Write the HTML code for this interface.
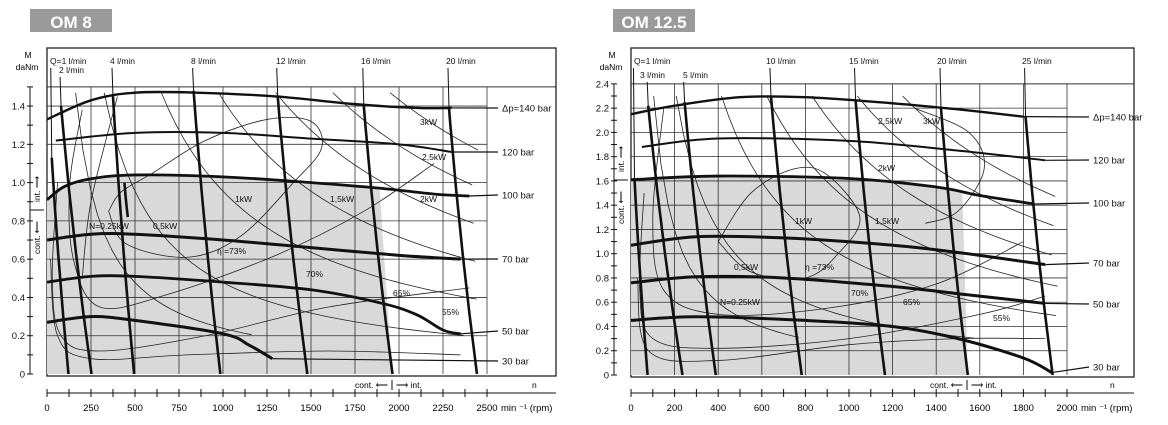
<!DOCTYPE html>
<html><head><meta charset="utf-8"><style>
body{margin:0;background:#fff;}
svg{display:block;font-family:"Liberation Sans",sans-serif;}
</style></head><body>
<svg id="s" width="1168" height="425" viewBox="0 0 1168 425" xmlns="http://www.w3.org/2000/svg">
<rect width="1168" height="425" fill="#fff"/>
<rect x="30" y="9" width="82" height="23" fill="#9a9a9a"/>
<text x="71" y="28" font-size="17" font-weight="bold" fill="#fff" text-anchor="middle">OM 8</text>
<rect x="613" y="9" width="82" height="23" fill="#9a9a9a"/>
<text x="654" y="28" font-size="17" font-weight="bold" fill="#fff" text-anchor="middle">OM 12.5</text>
<g id="g"></g>
</svg>
<script>
const NS="http://www.w3.org/2000/svg",G=document.getElementById('g');
function el(t,a,txt){const e=document.createElementNS(NS,t);for(const k in a)e.setAttribute(k,a[k]);if(txt!==undefined)e.textContent=txt;G.appendChild(e);return e;}
function cr(p){if(p.length<3)return 'M'+p.map(q=>q.join(',')).join('L');let d='M'+p[0][0]+','+p[0][1];
for(let i=0;i<p.length-1;i++){const p0=p[i-1]||p[i],p1=p[i],p2=p[i+1],p3=p[i+2]||p2;
d+='C'+(p1[0]+(p2[0]-p0[0])/6)+','+(p1[1]+(p2[1]-p0[1])/6)+' '+(p2[0]-(p3[0]-p1[0])/6)+','+(p2[1]-(p3[1]-p1[1])/6)+' '+p2[0]+','+p2[1];}return d;}
function chart(c){
 const X=r=>c.x0+r*c.sx, Y=m=>c.y0-m*c.sy;
 const P=a=>a.map(q=>[X(q[0]),Y(q[1])]);
 el('rect',{x:c.fl,y:48,width:c.fr-c.fl,height:c.y0-48+2,fill:'none',stroke:'#222','stroke-width':1.3});
 // shaded: straight corners, curved top
 const top=P(c.shade), br=[X(c.shB),c.y0];
 el('path',{d:'M'+X(0)+','+c.y0+'L'+top[0]+cr(top).replace(/^M[^C]*/,'')+'L'+br+'Z',fill:'#d9d9d9',stroke:'none'});
 for(let r=c.gx;r<=c.rmax+1e-6;r+=c.gx)el('line',{x1:X(r),y1:Y(c.mmax),x2:X(r),y2:c.y0,stroke:'#333','stroke-width':0.8});
 for(let m=0.2;m<=c.mmax-0.05;m+=0.2)el('line',{x1:c.fl,y1:Y(m),x2:X(c.rmax),y2:Y(m),stroke:'#333','stroke-width':0.8});
 el('line',{x1:c.fl,y1:Y(c.mmax),x2:c.fr,y2:Y(c.mmax),stroke:'#333','stroke-width':1});
 c.pw.forEach(p=>{const k=p[0]*c.pk;let pts=[];for(let n=k/c.mtop;n<=c.rmax*0.98;n+=c.rmax/60){const m=k/n;if(m<p[1])break;pts.push([X(n),Y(m)]);}
  if(pts.length>1)el('path',{d:'M'+pts.map(q=>q.join(',')).join('L'),fill:'none',stroke:'#222','stroke-width':0.8});});
 c.eff.forEach(a=>el('path',{d:cr(P(a)),fill:'none',stroke:'#222','stroke-width':0.8}));
 c.pr.forEach(p=>{el('path',{d:cr(P(p.d)),fill:'none',stroke:'#111','stroke-width':p.w||2.4});
  const l=p.d[p.d.length-1];el('line',{x1:X(l[0]),y1:Y(l[1]),x2:c.lx-4,y2:p.ly,stroke:'#111','stroke-width':1.2});
  el('text',{x:c.lx,y:p.ly+3.5,'font-size':9.5,fill:'#111'},p.t);});
 c.fl_.forEach(f=>{const t=[X(f[0]),Y(f[1])],b=[X(f[2]),f[6]!==undefined?Y(f[6]):c.y0],m=[(t[0]+b[0])/2-(b[0]-t[0])*0.12,(t[1]+b[1])/2];
  el('path',{d:'M'+t+'Q'+m+' '+b,fill:'none',stroke:'#111','stroke-width':2.6});
  if(f[3]){el('line',{x1:t[0]-1,y1:f[4],x2:t[0],y2:t[1],stroke:'#111','stroke-width':1});
  el('text',{x:f[5],y:f[4]-4,'font-size':8.5,fill:'#111'},f[3]);}});
 c.lab.forEach(l=>el('text',{x:l[0],y:l[1],'font-size':8.5,fill:'#111'},l[2]));
 el('line',{x1:c.ax,y1:Y(c.mmax),x2:c.ax,y2:c.y0,stroke:'#111','stroke-width':1});
 for(let m=0;m<=c.mmax+1e-6;m+=c.mmax/ (c.mmax>2?24:15)){el('line',{x1:c.ax-3,y1:Y(m),x2:c.ax+3,y2:Y(m),stroke:'#111','stroke-width':1});}
 c.yl.forEach(m=>el('text',{x:c.ax-5,y:Y(m)+3.5,'font-size':9.5,'text-anchor':'end',fill:'#111'},m==0?'0':m.toFixed(1)));
 el('text',{x:c.ax-2,y:58,'font-size':8.5,'text-anchor':'middle'},'M');
 el('text',{x:c.ax-3,y:70,'font-size':8.5,'text-anchor':'middle'},'daNm');
 const cy=c.cy;
 el('text',{x:0,y:0,'font-size':8.5,transform:`translate(${c.ax+10},${cy-8}) rotate(-90)`},'int. ⟶');
 el('text',{x:0,y:0,'font-size':8.5,transform:`translate(${c.ax+10},${cy+44}) rotate(-90)`,},'cont. ⟵');
 el('line',{x1:c.ax,y1:cy,x2:c.ax+14,y2:cy,stroke:'#111'});
 el('line',{x1:c.fl,y1:393,x2:c.fr,y2:393,stroke:'#111','stroke-width':1});
 for(let r=0;r<=c.rmax+1e-6;r+=c.gx/2)el('line',{x1:X(r),y1:389,x2:X(r),y2:397,stroke:'#111','stroke-width':1});
 for(let r=0;r<=c.rmax;r+=c.gx)el('text',{x:X(r),y:411,'font-size':9.5,'text-anchor':'middle'},r);
 el('text',{x:X(c.rmax)+14,y:411,'font-size':9.5},'min ⁻¹  (rpm)');
 el('text',{x:c.cx-4,y:388,'font-size':8.5,'text-anchor':'end'},'cont. ⟵');
 el('line',{x1:c.cx,y1:380,x2:c.cx,y2:390,stroke:'#111'});
 el('text',{x:c.cx+4,y:388,'font-size':8.5},'⟶ int.');
 el('text',{x:c.fr-24,y:388,'font-size':8.5},'n');
}
chart({x0:47,sx:440/2500,y0:374,sy:191.4,fl:47,fr:556,rmax:2500,mmax:1.5,mtop:1.47,gx:250,ax:30,cy:210,cx:392,lx:502,pk:955,
 yl:[0,0.2,0.4,0.6,0.8,1.0,1.2,1.4],
 shade:[[0,0.91],[100,0.98],[250,1.02],[500,1.04],[1000,1.03],[1500,1.0],[1890,0.97]],shB:1960,
 pw:[[0.25,0.2],[0.5,0.2],[1,0.3],[1.5,0.4],[2,0.6],[2.5,0.8],[3,1.1]],
 eff:[[[350,0.85],[450,0.68],[800,0.61],[1100,0.72],[1400,1.0],[1560,1.18],[1500,1.32],[1250,1.33],[900,1.22],[600,1.05],[420,0.95],[350,0.85]],
  [[200,1.38],[130,1.0],[150,0.6],[300,0.35],[700,0.42],[1300,0.62],[1800,0.85],[2200,1.1]],
  [[60,1.0],[30,0.5],[80,0.2],[300,0.12],[900,0.2],[1600,0.35],[2400,0.45]],
  [[20,0.6],[60,0.2],[250,0.08],[800,0.1],[1600,0.12],[2350,0.1]],
  [[400,1.45],[250,0.9],[200,0.5]]],
 pr:[{t:'Δp=140 bar',ly:108,d:[[0,1.33],[250,1.43],[500,1.47],[850,1.47],[1300,1.45],[1750,1.41],[2100,1.39],[2300,1.39]]},
  {t:'120 bar',ly:152,d:[[50,1.22],[500,1.26],[1000,1.26],[1500,1.23],[2000,1.2],[2300,1.16]],w:2},
  {t:'100 bar',ly:195,d:[[0,0.91],[100,0.98],[250,1.02],[500,1.04],[1000,1.03],[1500,1.0],[1900,0.97],[2200,0.94],[2400,0.93]],w:2.8},
  {t:'70 bar',ly:259,d:[[0,0.70],[250,0.73],[500,0.73],[1000,0.70],[1500,0.66],[2000,0.62],[2350,0.60]],w:3},
  {t:'50 bar',ly:331,d:[[0,0.48],[250,0.51],[500,0.51],[1000,0.48],[1500,0.44],[1900,0.37],[2100,0.31],[2250,0.23],[2350,0.21]],w:2.8},
  {t:'30 bar',ly:361,d:[[0,0.27],[250,0.30],[500,0.28],[1000,0.21],[1150,0.15],[1280,0.08]],w:3}],
 fl_:[[27,1.13,122,'Q=1 l/min',68,50],[80,1.4,253,'2 l/min',77,59],[375,1.45,495,'4 l/min',68,110],[440,1.0,459,'',0,0,0.82],
  [833,1.48,985,'8 l/min',68,191],[1311,1.45,1479,'12 l/min',68,276],[1800,1.4,1963,'16 l/min',68,361],[2284,1.39,2443,'20 l/min',68,446]],
 lab:[[235,202,'1kW'],[330,202,'1,5kW'],[420,202,'2kW'],[420,125,'3kW'],[422,160,'2,5kW'],[89,229,'N=0.25kW'],[153,229,'0,5kW'],[217,254,'η  =73%'],[306,277,'70%'],[393,296,'65%'],[442,315,'55%']]});
chart({x0:631,sx:0.218,y0:375,sy:121.3,fl:631,fr:1134,rmax:2000,mmax:2.4,mtop:2.3,gx:200,ax:614,cy:180,cx:967,lx:1093,pk:955,
 yl:[0,0.2,0.4,0.6,0.8,1.0,1.2,1.4,1.6,1.8,2.0,2.2,2.4],
 shade:[[0,1.61],[400,1.64],[1000,1.62],[1400,1.55],[1520,1.52]],shB:1545,
 pw:[[0.25,0.3],[0.5,0.3],[1,0.4],[1.5,0.5],[2,0.8],[2.5,1.1],[3,1.4]],
 eff:[[[400,1.1],[550,0.85],[800,0.8],[950,1.0],[1050,1.3],[900,1.65],[750,1.7],[550,1.5],[400,1.1]],
  [[150,2.2],[100,1.3],[150,0.7],[400,0.5],[900,0.55],[1400,0.75],[1800,1.1]],
  [[60,1.5],[40,0.7],[100,0.3],[400,0.22],[1000,0.3],[1600,0.5],[1900,0.65]],
  [[30,0.8],[80,0.2],[400,0.12],[1000,0.25],[1500,0.3],[1900,0.3]],
  [[1300,2.2],[1550,2.0],[1620,1.7],[1500,1.35],[1350,1.25]]],
 pr:[{t:'Δp=140 bar',ly:117,d:[[0,2.15],[200,2.22],[500,2.29],[800,2.29],[1200,2.24],[1500,2.19],[1800,2.13]]},
  {t:'120 bar',ly:160,d:[[50,1.88],[400,1.95],[1000,1.93],[1500,1.85],[1900,1.77]],w:2},
  {t:'100 bar',ly:203,d:[[0,1.61],[400,1.64],[1000,1.62],[1400,1.55],[1600,1.48],[1850,1.41]],w:2.8},
  {t:'70 bar',ly:263,d:[[0,1.07],[300,1.14],[700,1.13],[1200,1.07],[1500,1.01],[1900,0.91]],w:3},
  {t:'50 bar',ly:304,d:[[0,0.76],[300,0.81],[700,0.80],[1200,0.73],[1500,0.67],[1900,0.59]],w:3},
  {t:'30 bar',ly:367,d:[[0,0.45],[300,0.48],[800,0.45],[1200,0.40],[1500,0.30],[1800,0.14],[1930,0.02]],w:3}],
 fl_:[[16,1.62,76,'Q=1 l/min',68,634],[79,2.22,236,'3 l/min',82,640],[246,2.25,389,'5 l/min',82,683],
  [642,2.3,783,'10 l/min',68,766],[1030,2.27,1165,'15 l/min',68,849],[1422,2.2,1545,'20 l/min',68,937],[1810,2.13,1934,'25 l/min',68,1022]],
 lab:[[795,224,'1kW'],[875,224,'1,5kW'],[878,171,'2kW'],[878,124,'2,5kW'],[923,124,'3kW'],[734,270,'0,5kW'],[805,270,'η  =73%'],[851,296,'70%'],[903,305,'65%'],[993,321,'55%'],[720,305,'N=0.25kW']]});
</script>
</body></html>
